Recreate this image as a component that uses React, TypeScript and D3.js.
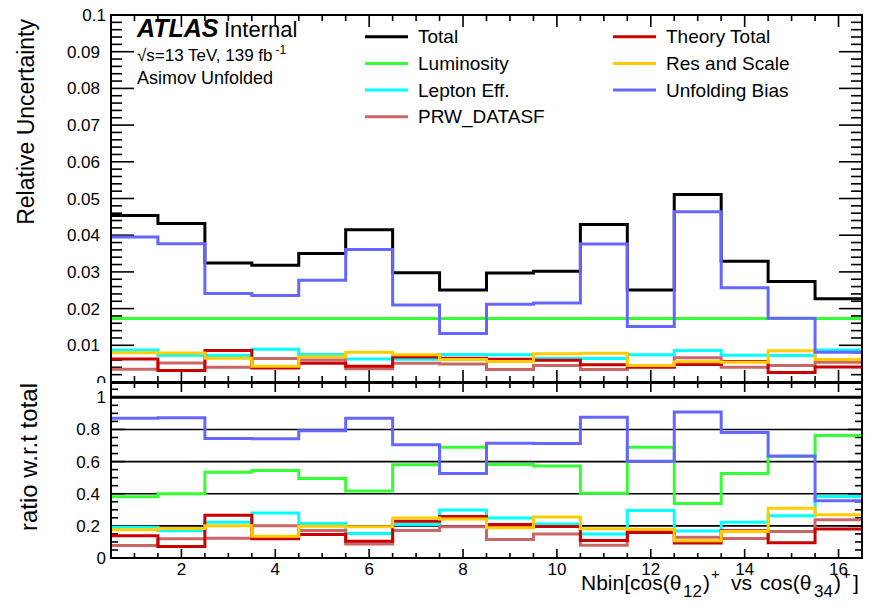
import React from "react";
import * as d3 from "d3";

const bins = [1, 2, 3, 4, 5, 6, 7, 8, 9, 10, 11, 12, 13, 14, 15, 16];
const total = [0.0454, 0.0432, 0.0324, 0.0318, 0.035, 0.0415, 0.0298, 0.0251, 0.0297, 0.0302, 0.0429, 0.0251, 0.0511, 0.0329, 0.0274, 0.0227];
const luminosity = [0.0173, 0.0173, 0.0173, 0.0173, 0.0173, 0.0173, 0.0173, 0.0173, 0.0173, 0.0173, 0.0173, 0.0173, 0.0173, 0.0173, 0.0173, 0.0173];
const leptonEff = [0.0087, 0.0073, 0.0072, 0.0089, 0.0075, 0.0063, 0.0062, 0.0075, 0.0074, 0.0064, 0.0064, 0.0074, 0.0086, 0.0073, 0.0072, 0.0087];
const prwDatasf = [0.0035, 0.0052, 0.004, 0.0064, 0.006, 0.0036, 0.0051, 0.0049, 0.0034, 0.0045, 0.0034, 0.0042, 0.0066, 0.004, 0.0045, 0.0054];
const theoryTotal = [0.0063, 0.0031, 0.0086, 0.0038, 0.0051, 0.0043, 0.0068, 0.0065, 0.0062, 0.0059, 0.0047, 0.004, 0.0048, 0.0056, 0.0026, 0.0041];
const resScale = [0.008, 0.0079, 0.0065, 0.0043, 0.0069, 0.0081, 0.0074, 0.0061, 0.0056, 0.0077, 0.0078, 0.0045, 0.0055, 0.0054, 0.0085, 0.0061];
const unfoldingBias = [0.0395, 0.0377, 0.0241, 0.0236, 0.0277, 0.0361, 0.021, 0.0132, 0.0212, 0.0215, 0.0376, 0.0151, 0.0464, 0.0257, 0.0174, 0.0081];

const topTickLabels = ["0.1", "0.09", "0.08", "0.07", "0.06", "0.05", "0.04", "0.03", "0.02", "0.01", "0"];
const topTickValues = [0.1, 0.09, 0.08, 0.07, 0.06, 0.05, 0.04, 0.03, 0.02, 0.01, 0];
const botTickLabels = ["1", "0.8", "0.6", "0.4", "0.2", "0"];
const botTickValues = [1, 0.8, 0.6, 0.4, 0.2, 0];
const xTickValues = [2, 4, 6, 8, 10, 12, 14, 16];
const xTickLabels = ["2", "4", "6", "8", "10", "12", "14", "16"];

const series = [
  { name: "Total", values: total, color: "#000000", col: 0, row: 0 },
  { name: "Luminosity", values: luminosity, color: "#33ff33", col: 0, row: 1 },
  { name: "Lepton Eff.", values: leptonEff, color: "#00ffff", col: 0, row: 2 },
  { name: "PRW_DATASF", values: prwDatasf, color: "#cc6666", col: 0, row: 3 },
  { name: "Theory Total", values: theoryTotal, color: "#cc0000", col: 1, row: 0 },
  { name: "Res and Scale", values: resScale, color: "#ffcc00", col: 1, row: 1 },
  { name: "Unfolding Bias", values: unfoldingBias, color: "#6666ff", col: 1, row: 2 },
];

const FONT = "'Liberation Sans', Arial, Helvetica, sans-serif";
const L = 111, R = 862;
const TOP0 = 15, TOP1 = 382;
const BOT0 = 383, BOT1 = 558;

export default function App() {
  const x = d3.scaleLinear().domain([0.5, 16.5]).range([L, R]);
  const yTop = d3.scaleLinear().domain([0, 0.1]).range([TOP1, TOP0]);
  const yBot = d3.scaleLinear().domain([0, 1.089]).range([BOT1, BOT0]);

  const stepPath = (vals: number[], y: (v: number) => number) => {
    const pts: [number, number][] = [];
    vals.forEach((v, i) => {
      pts.push([x(bins[i] - 0.5), y(v)]);
      pts.push([x(bins[i] + 0.5), y(v)]);
    });
    return d3.line()(pts) as string;
  };

  const xMinor = d3.range(1, 16.5, 0.5).filter((v) => v % 2 !== 0);
  const topYMinor = d3.range(0, 0.1001, 0.002).filter((v) => Math.abs(v * 100 - Math.round(v * 100)) > 1e-6);
  const botYMinor = d3.range(0, 1.089, 0.05).filter((v) => Math.abs(v * 5 - Math.round(v * 5)) > 1e-6);

  const tk = { stroke: "#000", strokeWidth: 1.6 };

  return (
    <svg width={872} height={613} style={{ position: "absolute", left: 0, top: 0, background: "#fff" }} fontFamily={FONT}>
      <rect x={0} y={0} width={872} height={613} fill="#fff" />
      {/* ===== TOP PANEL ===== */}
      {topTickValues.map((v, i) => {
        const lab = topTickLabels[i];
        const stripped = lab === "0.1" || lab === "0";
        return (
          <text key={"tl" + i} x={stripped ? 106 : 100} y={yTop(v) + 6} fontSize={17} textAnchor="end">
            {lab}
          </text>
        );
      })}
      {topTickValues.map((v, i) => (
        <g key={"tyt" + i}>
          <line x1={L} x2={L + 23} y1={yTop(v)} y2={yTop(v)} {...tk} />
          <line x1={R} x2={R - 23} y1={yTop(v)} y2={yTop(v)} {...tk} />
        </g>
      ))}
      {topYMinor.map((v, i) => (
        <g key={"tym" + i}>
          <line x1={L} x2={L + 11} y1={yTop(v)} y2={yTop(v)} {...tk} />
          <line x1={R} x2={R - 11} y1={yTop(v)} y2={yTop(v)} {...tk} />
        </g>
      ))}
      {xTickValues.map((v, i) => (
        <g key={"txt" + i}>
          <line x1={x(v)} x2={x(v)} y1={TOP1} y2={TOP1 - 12} {...tk} />
          <line x1={x(v)} x2={x(v)} y1={TOP0} y2={TOP0 + 12} {...tk} />
        </g>
      ))}
      {xMinor.map((v, i) => (
        <g key={"txm" + i}>
          <line x1={x(v)} x2={x(v)} y1={TOP1} y2={TOP1 - 6} {...tk} />
          <line x1={x(v)} x2={x(v)} y1={TOP0} y2={TOP0 + 6} {...tk} />
        </g>
      ))}
      {series.map((s) => (
        <path key={"hp" + s.name} d={stepPath(s.values, yTop)} fill="none" stroke={s.color} strokeWidth={3} />
      ))}
      <rect x={L} y={TOP0} width={R - L} height={TOP1 - TOP0} fill="none" stroke="#000" strokeWidth={2} />

      <text x={137} y={37} fontSize={25} fontWeight="bold" fontStyle="italic">ATLAS</text>
      <text x={224} y={37} fontSize={22}>Internal</text>
      <text x={137} y={61} fontSize={17}>
        √s=13 TeV, 139 fb
        <tspan dx={3} dy={-7} fontSize={12}>-1</tspan>
      </text>
      <text x={137} y={84} fontSize={18}>Asimov Unfolded</text>

      {series.map((s) => {
        const lx = s.col === 0 ? 365 : 613;
        const ly = 36.7 + s.row * 26.7;
        return (
          <g key={"lg" + s.name}>
            <line x1={lx} x2={lx + 43} y1={ly} y2={ly} stroke={s.color} strokeWidth={3} />
            <text x={lx + 53} y={ly + 6.5} fontSize={19}>{s.name}</text>
          </g>
        );
      })}

      <text transform={`translate(34,19) rotate(-90)`} fontSize={23} textAnchor="end">Relative Uncertainty</text>

      {/* ===== BOTTOM PANEL ===== */}
      <rect x={0} y={BOT0} width={872} height={613 - BOT0} fill="#fff" />
      {botTickValues.map((v, i) => {
        const lab = botTickLabels[i];
        const stripped = lab === "1" || lab === "0";
        return (
          <text key={"bl" + i} x={stripped ? 106 : 100} y={yBot(v) + 6} fontSize={17} textAnchor="end">
            {lab}
          </text>
        );
      })}
      {[0.2, 0.4, 0.6, 0.8, 1].map((v, i) => (
        <line key={"g" + i} x1={L} x2={R} y1={yBot(v)} y2={yBot(v)} stroke="#000" strokeWidth={1.6} />
      ))}
      {botTickValues.map((v, i) => (
        <g key={"byt" + i}>
          <line x1={L} x2={L + 14} y1={yBot(v)} y2={yBot(v)} {...tk} />
          <line x1={R} x2={R - 14} y1={yBot(v)} y2={yBot(v)} {...tk} />
        </g>
      ))}
      {botYMinor.map((v, i) => (
        <g key={"bym" + i}>
          <line x1={L} x2={L + 7} y1={yBot(v)} y2={yBot(v)} {...tk} />
          <line x1={R} x2={R - 7} y1={yBot(v)} y2={yBot(v)} {...tk} />
        </g>
      ))}
      {xTickValues.map((v, i) => (
        <g key={"bxt" + i}>
          <line x1={x(v)} x2={x(v)} y1={BOT1} y2={BOT1 - 9} {...tk} />
          <line x1={x(v)} x2={x(v)} y1={BOT0} y2={BOT0 + 9} {...tk} />
        </g>
      ))}
      {xMinor.map((v, i) => (
        <g key={"bxm" + i}>
          <line x1={x(v)} x2={x(v)} y1={BOT1} y2={BOT1 - 5} {...tk} />
          <line x1={x(v)} x2={x(v)} y1={BOT0} y2={BOT0 + 5} {...tk} />
        </g>
      ))}
      {series.map((s) => (
        <path
          key={"rp" + s.name}
          d={stepPath(s.values.map((v, i) => v / total[i]), yBot)}
          fill="none"
          stroke={s.color}
          strokeWidth={3}
        />
      ))}
      <rect x={L} y={BOT0} width={R - L} height={BOT1 - BOT0} fill="none" stroke="#000" strokeWidth={2} />

      {xTickValues.map((v, i) => (
        <text key={"xl" + i} x={x(v)} y={575} fontSize={17} textAnchor="middle">{xTickLabels[i]}</text>
      ))}

      <text transform={`translate(37,383) rotate(-90)`} fontSize={24} textAnchor="end">ratio w.r.t total</text>

      <g fontSize={21}>
        <text x={581} y={590}>Nbin[cos(θ</text>
        <text x={683} y={597} fontSize={17}>12</text>
        <text x={703} y={590}>)</text>
        <text x={711} y={579} fontSize={15}>+</text>
        <text x={731} y={590}>vs</text>
        <text x={760} y={590}>cos(θ</text>
        <text x={814} y={597} fontSize={17}>34</text>
        <text x={834} y={590}>)</text>
        <text x={842} y={579} fontSize={15}>+</text>
        <text x={853} y={590}>]</text>
      </g>
    </svg>
  );
}
